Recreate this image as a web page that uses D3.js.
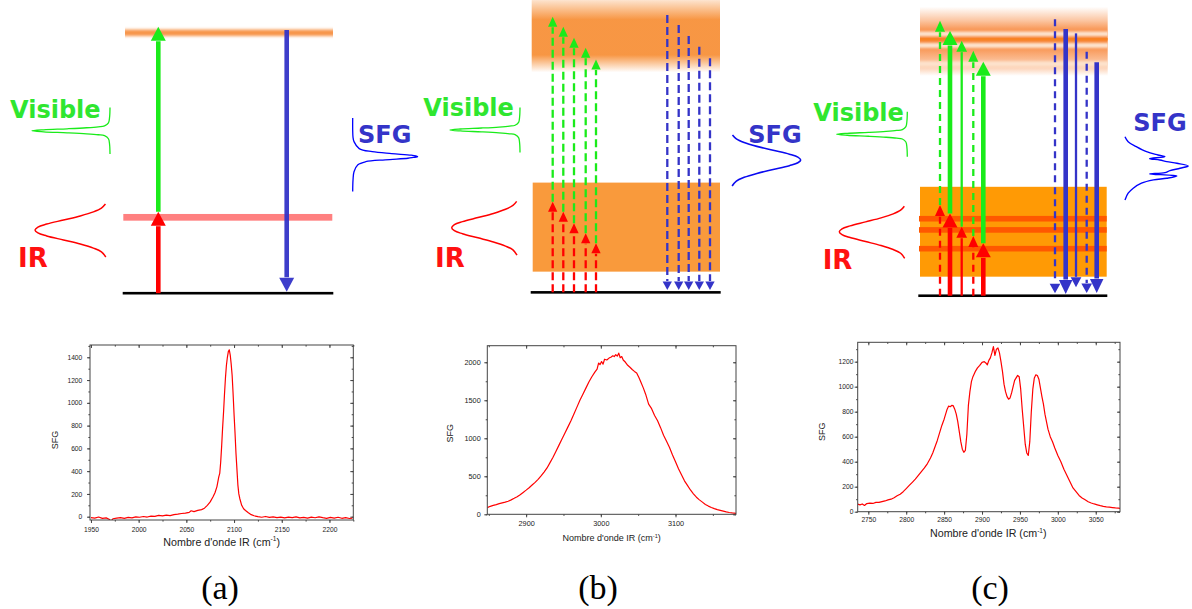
<!DOCTYPE html>
<html><head><meta charset="utf-8">
<script src="https://cdn.jsdelivr.net/npm/d3@7"></script>
<style>body{margin:0;background:#fff}svg{display:block}</style>
</head><body>
<svg id="c" width="1192" height="609"></svg>
<script>
// ================= DATA =================
// Spectrum (a): SFG vs IR wavenumber
const specA_x=[1950,1954,1958,1962,1966,1969,1971,1973,1977,1981,1985,1989,1993,1997,2001,2005,2009,2013,2017,2021,2025,2029,2033,2037,2041,2045,2049,2053,2055,2058,2062,2066,2069,2072,2075,2078,2080,2082,2084,2085,2086,2087,2088,2089,2090,2091,2092,2093,2094,2095,2096,2097,2098,2099,2100,2101,2102,2103,2104,2105,2106,2108,2110,2112,2115,2118,2121,2125,2129,2133,2137,2141,2145,2149,2153,2157,2161,2165,2169,2173,2177,2181,2185,2189,2193,2197,2201,2205,2209,2213,2217,2221,2224];
const specA_y=[-8,-12,-3,-15,-10,-22,-40,-18,-12,-8,-14,-6,-10,-2,-5,2,-3,5,3,12,8,14,10,18,22,28,32,38,52,44,55,62,75,100,130,175,210,262,350,380,480,620,780,920,1080,1220,1330,1400,1450,1465,1420,1340,1240,1080,900,740,560,420,280,200,160,100,70,55,35,18,8,0,-5,2,-6,-2,-8,-4,-10,-3,-8,-2,-10,-6,-12,-4,-9,-1,-8,-14,-6,-12,-5,-14,-8,-16,-12];
// Spectrum (b)
const specB_x=[2848,2852,2856,2860,2864,2868,2872,2876,2880,2884,2888,2892,2896,2900,2904,2908,2912,2916,2920,2924,2928,2932,2936,2940,2944,2948,2952,2956,2960,2964,2968,2972,2976,2980,2984,2988,2992,2995,2997,2999,3001,3003,3005,3008,3011,3014,3016,3018,3020,3022,3024,3026,3028,3030,3033,3036,3039,3042,3045,3048,3051,3054,3057,3060,3064,3068,3072,3076,3080,3084,3088,3092,3096,3100,3104,3108,3112,3116,3120,3124,3128,3132,3136,3140,3144,3148,3152,3156,3160,3164,3168,3172,3176,3181];
const specB_y=[88,105,118,128,140,150,160,172,190,210,232,258,288,318,350,385,420,460,505,555,610,680,750,830,910,990,1070,1150,1230,1320,1410,1500,1580,1660,1740,1810,1870,1910,1990,1970,2010,1975,2040,2030,2055,2070,2085,2075,2100,2080,2120,2060,2075,2030,2000,1960,1935,1905,1880,1860,1800,1730,1660,1580,1450,1390,1300,1230,1140,1040,960,880,780,690,600,520,440,380,320,270,225,190,160,130,108,90,75,62,52,42,32,24,18,12];
// Spectrum (c)
const specC_x=[2736,2739,2742,2745,2748,2752,2756,2760,2764,2768,2772,2776,2780,2784,2788,2792,2796,2800,2804,2808,2812,2816,2820,2824,2828,2832,2835,2838,2841,2844,2847,2850,2852,2854,2856,2858,2860,2862,2864,2866,2868,2870,2872,2874,2876,2878,2880,2882,2884,2886,2888,2891,2894,2897,2900,2903,2905,2907,2909,2911,2913,2915,2917,2919,2921,2923,2925,2927,2929,2931,2933,2935,2937,2939,2941,2943,2945,2947,2949,2951,2953,2955,2957,2959,2961,2963,2965,2967,2969,2971,2973,2975,2977,2979,2981,2983,2985,2987,2990,2993,2996,3000,3004,3008,3012,3016,3020,3024,3028,3032,3036,3040,3044,3048,3052,3056,3060,3064,3068,3072,3076,3080,3082];
const specC_y=[60,55,62,50,65,68,66,75,74,80,86,95,100,112,128,140,160,185,210,235,260,290,320,350,385,430,470,520,570,630,690,740,780,820,845,840,850,848,820,780,720,640,560,500,475,490,620,850,960,1040,1080,1120,1150,1170,1195,1200,1190,1175,1210,1230,1270,1320,1250,1300,1310,1270,1200,1120,1020,960,920,900,910,950,1000,1050,1070,1090,1080,980,820,680,540,470,450,560,800,980,1070,1095,1090,1060,990,920,860,780,720,660,600,560,510,450,400,340,290,240,190,160,130,110,95,80,70,62,55,48,42,38,36,33,30,28,27];

// Tick labels
const ticksA_x=[1950,2000,2050,2100,2150,2200];
const ticksA_y=[0,200,400,600,800,1000,1200,1400];
const ticksB_x=[2900,3000,3100];
const ticksB_y=[0,500,1000,1500,2000];
const ticksC_x=[2750,2800,2850,2900,2950,3000,3050];
const ticksC_y=[0,200,400,600,800,1000,1200];

// Energy diagrams (arbitrary energy units, 0 = ground state)
const groundE=[1.0,1.3,0.1];
// (a) single resonance
const levelA_E=28.1, virtualA_E=94.0;
const irA=[[1.0,30.1]], visA=[[30.1,96.2]], sfgA=[[95.0,1.5]];
// (b) broad continuum
const bandB_E=[8.7,40.5];
const irTipB=[33.7,30.1,26.0,22.4,18.8];
const visTipB=[99.75,96.2,92.25,88.7,84.5];
const sfgTopB=[100.4,96.8,92.9,89.0,84.9];
const sfgEndB=[2.1,2.1,2.1,2.1,2.1];
// (c) continuum + discrete resonances
const bandC_E=[6.9,39.0];
const resC_E=[27.6,23.6,16.9];
const upperC_E=[93.6,89.5,82.9];
const irTipC=[32.5,29.5,24.75,21.4,18.8];
const visTipC=[98.3,94.6,91.2,87.6,83.7];
const sfgTopC=[98.8,95.4,93.8,87.25,83.5];
const sfgEndC=[1.0,0.7,3.1,1.1,1.1];

// Pulse spectral shapes [offset (-1..1), intensity (0..1)]
const visShape=[[-1,0],[-0.6,0.005],[-0.34,0.02],[-0.21,0.07],[-0.17,0.15],[-0.13,0.3],[-0.086,0.55],[-0.043,0.85],[0,1],[0.043,0.85],[0.086,0.55],[0.13,0.3],[0.17,0.15],[0.21,0.07],[0.34,0.02],[0.6,0.005],[1,0]];
const irShape=[[-1,0.03],[-0.81,0.09],[-0.67,0.2],[-0.52,0.38],[-0.37,0.61],[-0.22,0.84],[-0.11,0.96],[0,1],[0.11,0.96],[0.22,0.84],[0.37,0.61],[0.52,0.38],[0.67,0.2],[0.81,0.09],[0.96,0.035]];
const sfgShapeA=[[1,0],[0.5,0.005],[0.39,0.02],[0.21,0.1],[0.13,0.3],[0.08,0.6],[0.04,0.9],[0.02,0.97],[0,1],[-0.02,0.93],[-0.04,0.85],[-0.08,0.5],[-0.13,0.2],[-0.21,0.08],[-0.39,0.02],[-0.6,0.005],[-0.9,0]];
const sfgShapeC=[[1,0],[0.833,0.05],[0.667,0.18],[0.5,0.34],[0.39,0.52],[0.333,0.63],[0.267,0.39],[0.223,0.55],[0.167,0.66],[0.113,0.82],[0.023,1.0],[-0.053,0.87],[-0.133,0.71],[-0.2,0.63],[-0.243,0.39],[-0.31,0.82],[-0.387,0.66],[-0.443,0.45],[-0.553,0.26],[-0.72,0.13],[-0.887,0.05],[-1.11,0]];

// ================= DRAWING =================
const svg=d3.select("#c");
const defs=svg.append("defs");
const GREEN="#1aeb1a", RED="#ff0000", BLUE="#3434c8", GTXT="#2fe62f";
const yE=d3.scaleLinear().domain([0,100]).range([296,16]);

// filters & gradients
defs.append("filter").attr("id","blurY").attr("x","-5%").attr("y","-150%").attr("width","110%").attr("height","400%")
  .append("feGaussianBlur").attr("stdDeviation","0 1.4");
defs.append("filter").attr("id","blurS").attr("x","-5%").attr("y","-150%").attr("width","110%").attr("height","400%")
  .append("feGaussianBlur").attr("stdDeviation","0 0.8");
function vgrad(id,color,stops){
  const g=defs.append("linearGradient").attr("id",id).attr("x1",0).attr("y1",0).attr("x2",0).attr("y2",1);
  stops.forEach(s=>g.append("stop").attr("offset",s[0]).attr("stop-color",color).attr("stop-opacity",s[1]));
}
vgrad("gB","#f7913a",[[0,0.25],[0.27,0.95],[0.76,0.95],[1,0]]);
vgrad("gC","#f77f2f",[[0,0],[0.2,0.45],[0.4,1],[0.55,0.9],[0.75,0.55],[0.9,0.3],[1,0]]);

function arrow(g,x,e0,e1,color,st){
  const y0=yE(e0), y1=yE(e1), dir=y1<y0?-1:1;
  const yb=y1-dir*st.hl;
  g.append("line").attr("x1",x).attr("x2",x).attr("y1",y0).attr("y2",yb-dir*0.5)
    .attr("stroke",color).attr("stroke-width",st.w).attr("stroke-dasharray",st.dash||null);
  g.append("path").attr("d",`M${x-st.hw/2},${yb}L${x+st.hw/2},${yb}L${x},${y1}Z`).attr("fill",color);
}
function pulse(g,p){
  const line=d3.line().curve(d3.curveCatmullRom.alpha(0.5))
    .x(d=>p.base+p.amp*d[1]).y(d=>yE(p.cE+d[0]*p.hE));
  g.append("path").attr("d",line(p.shape)).attr("fill","none").attr("stroke",p.color).attr("stroke-width",p.sw||1.4);
}
function label(g,txt,x,y,color,fs){
  g.append("text").attr("x",x).attr("y",y).text(txt).attr("fill",color)
   .attr("font-family","DejaVu Sans, Verdana, sans-serif").attr("font-weight","bold").attr("font-size",fs);
}
function hband(g,x0,x1,eTop,eBot,fill,extra){
  const r=g.append("rect").attr("x",x0).attr("width",x1-x0).attr("y",yE(eTop)).attr("height",yE(eBot)-yE(eTop)).attr("fill",fill);
  if(extra) extra(r);
  return r;
}
function hline(g,x0,x1,e,h,fill){
  return g.append("rect").attr("x",x0).attr("width",x1-x0).attr("y",yE(e)-h/2).attr("height",h).attr("fill",fill);
}

const STY={
  a:{w:4.6,hw:15,hl:14},
  b:{w:2.3,hw:9.3,hl:10,dash:"8,4"},
  bd:{w:2.3,hw:9.3,hl:8.5,dash:"8,4"},
  dash:{w:2.3,hw:10,hl:11,dash:"7,5"},
  thick:{w:4.6,hw:15,hl:14},
  thin:{w:2.3,hw:10.7,hl:11},
  dashD:{w:2.3,hw:10.7,hl:9.5,dash:"7,5"},
  thickD:{w:4.6,hw:13.5,hl:14},
  thinD:{w:2.3,hw:10.7,hl:10}
};

// ---------- Panel (a) ----------
{
  const g=svg.append("g");
  hline(g,125,333,virtualA_E,6.5,"#f7944a").attr("filter","url(#blurY)");
  hline(g,122.7,333.3,groundE[0],2.6,"#000");
  hline(g,123.3,332.3,levelA_E,6.7,"#ff8080");
  sfgA.forEach(d=>arrow(g,286.7,d[0],d[1],BLUE,STY.a));
  g.selectAll("line,path").attr("opacity",0.95);
  irA.forEach(d=>arrow(g,158.3,d[0],d[1],RED,STY.a));
  visA.forEach(d=>arrow(g,158.3,d[0],d[1],GREEN,STY.a));
  pulse(g,{shape:visShape,cE:59.0,hE:8.32,base:110,amp:-78,color:GREEN,sw:1.3});
  pulse(g,{shape:irShape,cE:23.57,hE:9.64,base:108,amp:-73,color:RED,sw:1.5});
  pulse(g,{shape:sfgShapeA,cE:49.75,hE:13.8,base:352.7,amp:65,color:"#0000ff",sw:1.3});
  label(g,"Visible",10,118,GTXT,24);
  label(g,"IR",18,266.7,"#ff1111",26);
  label(g,"SFG",358,143,BLUE,24);
}
// ---------- Panel (b) ----------
{
  const g=svg.append("g");
  g.append("rect").attr("x",531.7).attr("width",188.3).attr("y",yE(105.7)).attr("height",yE(79.9)-yE(105.7)).attr("fill","url(#gB)");
  hband(g,532.7,720,bandB_E[1],bandB_E[0],"#f99a3c");
  hline(g,530.7,720.7,groundE[1],2.6,"#000");
  const upX=[552.7,563.3,574,585.7,596], dnX=[667.3,678.7,688.7,699.3,710];
  irTipB.forEach((e,i)=>arrow(g,upX[i],groundE[1],e,RED,STY.b));
  visTipB.forEach((e,i)=>arrow(g,upX[i],irTipB[i],e,GREEN,STY.b));
  sfgTopB.forEach((e,i)=>arrow(g,dnX[i],e,sfgEndB[i],BLUE,STY.bd));
  pulse(g,{shape:visShape,cE:59.3,hE:8.04,base:520,amp:-70,color:GREEN,sw:1.3});
  pulse(g,{shape:irShape,cE:24.4,hE:9.8,base:519,amp:-67.3,color:RED,sw:1.5});
  pulse(g,{shape:irShape,cE:48.6,hE:9.3,base:730,amp:70.7,color:"#0a0af0",sw:1.6});
  label(g,"Visible",423.3,116,GTXT,24);
  label(g,"IR",435,266.7,"#ff1111",26);
  label(g,"SFG",748.3,142.7,BLUE,24);
}
// ---------- Panel (c) ----------
{
  const g=svg.append("g");
  g.append("rect").attr("x",920).attr("width",187.7).attr("y",yE(103.3)).attr("height",yE(78.6)-yE(103.3)).attr("fill","url(#gC)");
  upperC_E.forEach(e=>hline(g,920,1107.7,e,5,"#fde2cc").attr("filter","url(#blurS)"));
  hline(g,920,1107.7,91.7,2.4,"#f7821e").attr("opacity",0.8);
  hband(g,920,1106.7,bandC_E[1],bandC_E[0],"#ff9a05");
  resC_E.forEach(e=>hline(g,919,1106.7,e,5.6,"#ff5800"));
  hline(g,918.3,1107.3,groundE[2],2.6,"#000");
  const upX=[940,950,961.7,973.3,983.3], dnX=[1055,1065.7,1076,1086.7,1096.7];
  const styU=["dash","thick","thin","dash","thick"], styD=["dashD","thickD","thinD","dashD","thickD"];
  irTipC.forEach((e,i)=>arrow(g,upX[i],groundE[2],e,RED,STY[styU[i]]));
  visTipC.forEach((e,i)=>arrow(g,upX[i],irTipC[i],e,GREEN,STY[styU[i]]));
  sfgTopC.forEach((e,i)=>arrow(g,dnX[i],e,sfgEndC[i],BLUE,STY[styD[i]]));
  pulse(g,{shape:visShape,cE:57.75,hE:8.04,base:907.3,amp:-70.6,color:GREEN,sw:1.3});
  pulse(g,{shape:irShape,cE:22.96,hE:9.5,base:906.7,amp:-67.4,color:RED,sw:1.5});
  pulse(g,{shape:sfgShapeC,cE:46.2,hE:10.7,base:1125,amp:63.3,color:"#0000ff",sw:1.4});
  label(g,"Visible",813.3,120.7,GTXT,24);
  label(g,"IR",822.7,269.3,"#ff1111",26);
  label(g,"SFG",1133.3,131,BLUE,24);
}

// ---------- Spectra ----------
const plots=[
  {id:"a",x:specA_x,y:specA_y,box:[90,345,353.3,520],xd:[1949,2225],yd:[-29,1508],xt:ticksA_x,yt:ticksA_y,xm:d3.range(1950,2226,25),ym:d3.range(0,1501,100),
   fs:6.7,padX:3.9,padY:4.7,tfs:10.7,tx:221.7,ty:545.5,yfs:9,yx:58.3,yy:440},
  {id:"b",x:specB_x,y:specB_y,box:[487.3,345.7,736,514.3],xd:[2848,3181],yd:[0,2218],xt:ticksB_x,yt:ticksB_y,xm:d3.range(2850,3181,50),ym:d3.range(0,2201,250),
   fs:7.3,padX:3.5,padY:3.6,tfs:9,tx:611.7,ty:541,yfs:9,yx:453.3,yy:433.3},
  {id:"c",x:specC_x,y:specC_y,box:[857.7,342.3,1120,511.7],xd:[2736,3082],yd:[0,1355],xt:ticksC_x,yt:ticksC_y,xm:d3.range(2750,3081,25),ym:d3.range(0,1301,100),
   fs:6.7,padX:2.2,padY:1.2,tfs:10.7,tx:988.3,ty:537.3,yfs:9,yx:825,yy:431.7}
];
const FONT="Liberation Sans, Arial, sans-serif";
plots.forEach(p=>{
  const [l,t,r,b]=p.box;
  const g=svg.append("g");
  const xs=d3.scaleLinear().domain(p.xd).range([l,r]);
  const ys=d3.scaleLinear().domain(p.yd).range([b,t]);
  defs.append("clipPath").attr("id","clip"+p.id).append("rect").attr("x",l).attr("y",t).attr("width",r-l).attr("height",b-t);
  const clean=s=>{s.select(".domain").remove();s.selectAll("line").attr("stroke","#444");s.selectAll("text").attr("font-family",FONT).attr("font-size",p.fs).attr("fill","#222");};
  const fmt=d3.format("d");
  g.append("g").attr("transform",`translate(0,${b})`).call(d3.axisBottom(xs).tickValues(p.xt).tickSize(3).tickPadding(p.padX).tickFormat(fmt)).call(clean);
  g.append("g").attr("transform",`translate(0,${b})`).call(d3.axisBottom(xs).tickValues(p.xm).tickSize(1.6).tickFormat("")).call(clean);
  g.append("g").attr("transform",`translate(${l},0)`).call(d3.axisLeft(ys).tickValues(p.yt).tickSize(3).tickPadding(p.padY).tickFormat(fmt)).call(clean);
  g.append("g").attr("transform",`translate(${l},0)`).call(d3.axisLeft(ys).tickValues(p.ym).tickSize(1.6).tickFormat("")).call(clean);
  g.append("g").attr("transform",`translate(0,${t})`).call(d3.axisTop(xs).tickValues(p.xt).tickSizeInner(-3).tickSizeOuter(0).tickFormat("")).call(clean);
  g.append("g").attr("transform",`translate(0,${t})`).call(d3.axisTop(xs).tickValues(p.xm).tickSizeInner(-1.6).tickSizeOuter(0).tickFormat("")).call(clean);
  g.append("g").attr("transform",`translate(${r},0)`).call(d3.axisRight(ys).tickValues(p.yt).tickSizeInner(-3).tickSizeOuter(0).tickFormat("")).call(clean);
  g.append("g").attr("transform",`translate(${r},0)`).call(d3.axisRight(ys).tickValues(p.ym).tickSizeInner(-1.6).tickSizeOuter(0).tickFormat("")).call(clean);
  g.append("path").datum(d3.zip(p.x,p.y)).attr("clip-path",`url(#clip${p.id})`)
    .attr("d",d3.line().x(d=>xs(d[0])).y(d=>ys(d[1])))
    .attr("fill","none").attr("stroke","#ff0000").attr("stroke-width",1.2).attr("stroke-linejoin","round");
  g.append("rect").attr("x",l).attr("y",t).attr("width",r-l).attr("height",b-t).attr("fill","none").attr("stroke","#444").attr("stroke-width",1);
  const tt=g.append("text").attr("x",p.tx).attr("y",p.ty).attr("text-anchor","middle").attr("font-family",FONT).attr("font-size",p.tfs).attr("fill","#222");
  tt.append("tspan").text("Nombre d'onde IR (cm");
  tt.append("tspan").text("-1").attr("font-size",p.tfs*0.62).attr("dy",-p.tfs*0.38);
  tt.append("tspan").text(")").attr("dy",p.tfs*0.38);
  g.append("text").attr("transform",`translate(${p.yx},${p.yy}) rotate(-90)`).attr("text-anchor","middle")
    .attr("font-family",FONT).attr("font-size",p.yfs).attr("fill","#222").text("SFG");
});

// Panel letters
const panelLetters=["(a)","(b)","(c)"];
const letterX=[220,598,990];
panelLetters.forEach((s,i)=>svg.append("text").attr("x",letterX[i]).attr("y",599).attr("text-anchor","middle")
  .attr("font-family","Liberation Serif, Times New Roman, serif").attr("font-size",34).attr("fill","#000").text(s));
</script>
</body></html>
